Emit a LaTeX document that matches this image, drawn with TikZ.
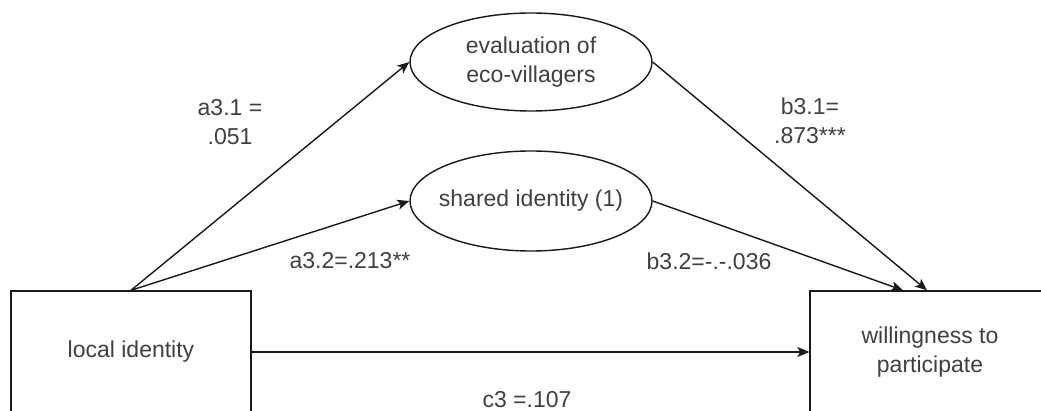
\documentclass[tikz,border=0pt]{standalone}
\usepackage{fontspec}
\setmainfont{Liberation Sans}
\usetikzlibrary{arrows.meta,shapes.geometric}
\definecolor{textgray}{RGB}{64,64,64}
\definecolor{linegray}{RGB}{25,25,25}
\begin{document}
\begin{tikzpicture}[x=1pt,y=-1pt,
  txt/.style={text=textgray, font=\fontsize{23}{29}\selectfont, align=center, inner sep=0pt},
  box/.style={draw=linegray, line width=1.4pt, rectangle, minimum width=240pt, minimum height=122pt, txt},
  ell/.style={draw=linegray, line width=1.4pt, ellipse, inner sep=0pt},
  arr/.style={draw=linegray, line width=1.4pt, -{Stealth[length=12pt,width=10pt,inset=3pt]}}
]
\useasboundingbox (0,0) rectangle (1041,411);
\fill[white] (0,0) rectangle (1041,411);
\begin{scope}
\clip (0,0) rectangle (1041,411);
\node[box] (li) at (131,352) {local identity};
\node[box] (wp) at (930,352) {willingness to\\participate};
\node[ell, minimum width=242pt, minimum height=98pt] (e1) at (531,62) {};
\node[txt] (e1t) at (e1) {evaluation of\\eco-villagers};
\node[ell, minimum width=242pt, minimum height=100pt] (e2) at (531,201) {};
\node[txt] (e2t) at (e2) {shared identity (1)};
\draw[arr] (li.north) -- (e1.west);
\draw[arr] (li.north) -- (e2.west);
\draw[arr] (e1.east) -- ([xshift=-3pt]wp.north);
\draw[arr] (e2.east) -- ([xshift=-27pt]wp.north);
\draw[arr] (li.east) -- (wp.west);
\node[txt] (la31) at (230,122) {a3.1 =\\.051};
\node[txt] (la32) at (350,261) {a3.2=.213**};
\node[txt] (lb31) at (810,121) {b3.1=\\.873***};
\node[txt] (lb32) at (709,261) {b3.2=-.-.036};
\node[txt] (lc3) at (527,400) {c3 =.107};
\end{scope}
\end{tikzpicture}
\end{document}
